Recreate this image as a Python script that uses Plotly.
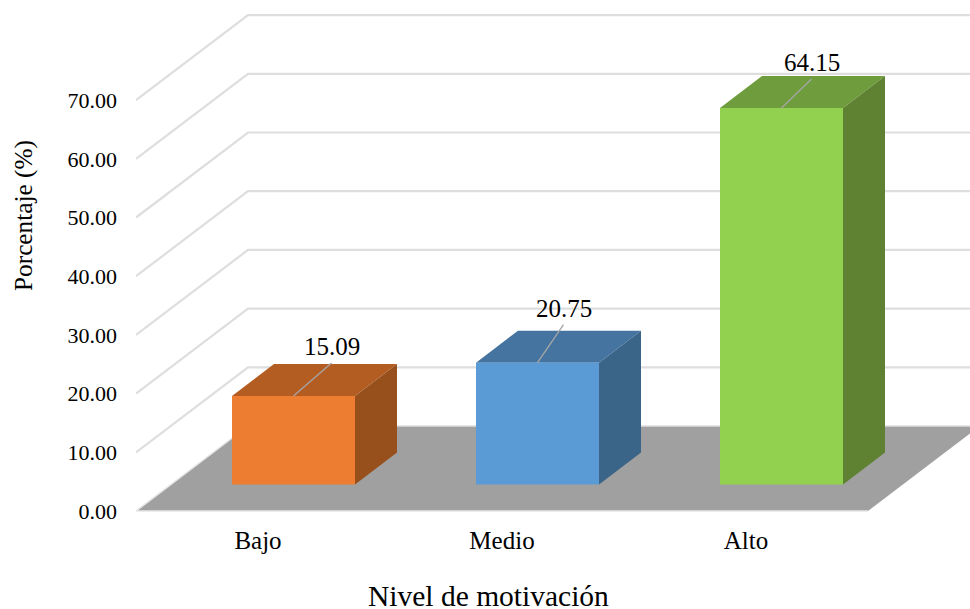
import plotly.graph_objects as go

# --- data ---
categories = ["Bajo", "Medio", "Alto"]
values = [15.09, 20.75, 64.15]
value_labels = ["15.09", "20.75", "64.15"]
y_ticks = [0, 10, 20, 30, 40, 50, 60, 70]
y_tick_labels = ["0.00", "10.00", "20.00", "30.00", "40.00", "50.00", "60.00", "70.00"]
front_colors = ["#ED7D31", "#5B9BD5", "#92D050"]
top_colors = ["#B45D23", "#44749F", "#6F9C3C"]
side_colors = ["#97501C", "#3A6488", "#5E8232"]

# --- oblique projection, in axis units ---
PX_X = 244.0            # pixels per category
PX_Y = 5.87             # pixels per percentage point
WALL_DX, WALL_DY = 112 / PX_X, 85 / PX_Y     # depth of floor
INSET_DX, INSET_DY = 35.5 / PX_X, 26.5 / PX_Y  # bar set back from front edge
BAR_DX, BAR_DY = 42 / PX_X, 32 / PX_Y        # depth of a bar
HALF = 61.5 / PX_X      # half the bar width
X_MIN, X_MAX = -0.5, (970 - 136) / PX_X - 0.5
Y_MIN, Y_MAX = -6 / PX_Y, 506 / PX_Y
leader_px = [(38, 33), (26, 38), (30, 29)]

FONT = "Liberation Serif"
fig = go.Figure()


def poly(xs, ys, color):
    fig.add_trace(go.Scatter(x=xs + xs[:1], y=ys + ys[:1], mode="lines", fill="toself",
                             fillcolor=color, line=dict(width=0, color=color),
                             hoverinfo="skip", showlegend=False))


def wall_line(v):
    fig.add_trace(go.Scatter(x=[X_MIN, X_MIN + WALL_DX, X_MAX + 1],
                             y=[v, v + WALL_DY, v + WALL_DY], mode="lines",
                             line=dict(color="#DEDEDE", width=2.2),
                             hoverinfo="skip", showlegend=False))


for v in y_ticks[1:]:
    wall_line(v)

# floor
x_right = X_MIN + 3 + WALL_DX
poly([X_MIN, X_MIN + 3, x_right, X_MIN + WALL_DX], [0, 0, WALL_DY, WALL_DY], "#A0A0A0")
fig.add_trace(go.Scatter(x=[X_MIN + WALL_DX, x_right], y=[WALL_DY, WALL_DY], mode="lines",
                         line=dict(color="#DEDEDE", width=1.5), hoverinfo="skip", showlegend=False))
fig.add_trace(go.Scatter(x=[X_MIN + WALL_DX, X_MIN, X_MIN + 3], y=[WALL_DY, 0, 0], mode="lines",
                         line=dict(color="#E6E6E6", width=1.5), hoverinfo="skip", showlegend=False))

annotations = []
for i, v in enumerate(values):
    cx = i + INSET_DX
    l, r = cx - HALF, cx + HALF
    b, t = INSET_DY, INSET_DY + v
    poly([l, r, r + BAR_DX, l + BAR_DX], [t, t, t + BAR_DY, t + BAR_DY], top_colors[i])
    poly([r, r + BAR_DX, r + BAR_DX, r], [b, b + BAR_DY, t + BAR_DY, t], side_colors[i])
    poly([l, r, r, l], [b, b, t, t], front_colors[i])
    lx, ly = cx + leader_px[i][0] / PX_X, t + leader_px[i][1] / PX_Y
    fig.add_trace(go.Scatter(x=[cx, lx], y=[t, ly], mode="lines",
                             line=dict(color="#A6A6A6", width=1.3),
                             hoverinfo="skip", showlegend=False))
    annotations.append(dict(x=lx, y=ly, xref="x", yref="y", text=value_labels[i], showarrow=False,
                            yanchor="bottom", yshift=1, font=dict(family=FONT, size=25, color="#000000")))

annotations.append(dict(text="Nivel de motivación", xref="paper", yref="paper",
                        x=(488 - 136) / 834, y=-(596 - 517) / 512, showarrow=False,
                        xanchor="center", yanchor="middle",
                        font=dict(family=FONT, size=29.5, color="#000000")))
annotations.append(dict(text="Porcentaje (%)", xref="paper", yref="paper", textangle=-90,
                        x=-(136 - 23) / 834, y=(517 - 216) / 512, showarrow=False,
                        xanchor="center", yanchor="middle",
                        font=dict(family=FONT, size=25.3, color="#000000")))

fig.update_layout(
    width=970, height=609, margin=dict(l=136, r=0, t=5, b=92),
    paper_bgcolor="white", plot_bgcolor="white", annotations=annotations,
    xaxis=dict(range=[X_MIN, X_MAX], tickvals=[0, 1, 2], ticktext=categories, showgrid=False,
               zeroline=False, showline=False, ticks="", ticklabelstandoff=6,
               tickfont=dict(family=FONT, size=25, color="#000000")),
    yaxis=dict(range=[Y_MIN, Y_MAX], tickvals=y_ticks, ticktext=y_tick_labels, showgrid=False,
               zeroline=False, showline=False, ticks="", ticklabelstandoff=18,
               tickfont=dict(family=FONT, size=22, color="#000000")),
)
fig.write_html("out.html", post_script="document.body.style.margin='0';",
               config={"displayModeBar": False})
